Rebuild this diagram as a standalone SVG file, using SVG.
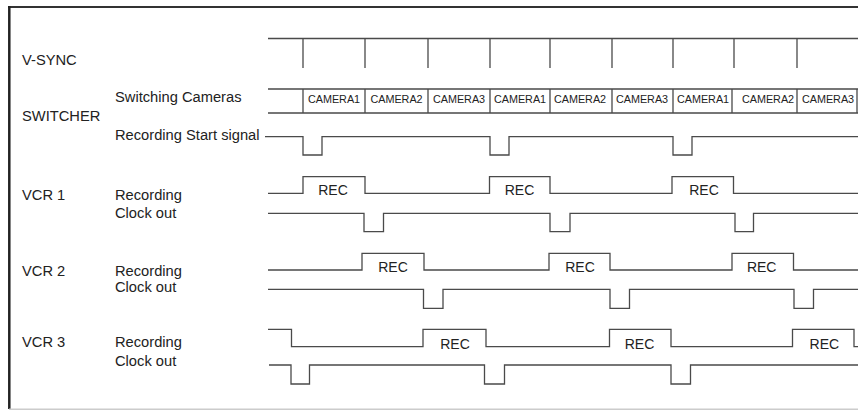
<svg xmlns="http://www.w3.org/2000/svg" width="858" height="410" viewBox="0 0 858 410">
<style>
.lbl{font-family:"Liberation Sans",Arial,sans-serif;font-size:14.7px;fill:#222}
.cam{font-family:"Liberation Sans",Arial,sans-serif;font-size:10.8px;fill:#222;text-anchor:middle}
.rec{font-family:"Liberation Sans",Arial,sans-serif;font-size:14px;fill:#222;text-anchor:middle}
.sig{fill:none;stroke:#4a4a4a;stroke-width:1.3}
</style>
<rect width="858" height="410" fill="#fff"/>
<g id="frame">
<line x1="8" y1="7" x2="858" y2="7" stroke="#333" stroke-width="2"/>
<line x1="9.3" y1="6" x2="9.3" y2="409" stroke="#222" stroke-width="2.5"/>
<line x1="9" y1="409.3" x2="858" y2="409.3" stroke="#ccc" stroke-width="1.5"/>
</g>
<g id="labels">
<text class="lbl" x="22" y="65">V-SYNC</text>
<text class="lbl" x="115" y="101.5">Switching Cameras</text>
<text class="lbl" x="22" y="120.5">SWITCHER</text>
<text class="lbl" x="115" y="139.5">Recording Start signal</text>
<text class="lbl" x="22" y="199.7">VCR 1</text>
<text class="lbl" x="115" y="199.7">Recording</text>
<text class="lbl" x="115" y="217.7">Clock out</text>
<text class="lbl" x="22" y="275.5">VCR 2</text>
<text class="lbl" x="115" y="275.5">Recording</text>
<text class="lbl" x="115" y="292">Clock out</text>
<text class="lbl" x="22" y="346.7">VCR 3</text>
<text class="lbl" x="115" y="346.7">Recording</text>
<text class="lbl" x="115" y="365.5">Clock out</text>
</g>
<g id="vsync">
<path class="sig" d="M268,38.5H858M303,38.5V68M365,38.5V68M428,38.5V68M490,38.5V68M550,38.5V68M612,38.5V68M673,38.5V68M734,38.5V68M797,38.5V68"/>
</g>
<g id="switcher-cameras">
<path class="sig" d="M268,89H858M268,113H858M303,89V113M365,89V113M428,89V113M490,89V113M550,89V113M612,89V113M673,89V113M732,89V113M797,89V113M857,89V113"/>
<text class="cam" x="334" y="103">CAMERA1</text>
<text class="cam" x="396.5" y="103">CAMERA2</text>
<text class="cam" x="459" y="103">CAMERA3</text>
<text class="cam" x="520" y="103">CAMERA1</text>
<text class="cam" x="580" y="103">CAMERA2</text>
<text class="cam" x="642" y="103">CAMERA3</text>
<text class="cam" x="703" y="103">CAMERA1</text>
<text class="cam" x="768" y="103">CAMERA2</text>
<text class="cam" x="828" y="103">CAMERA3</text>
</g>
<g id="switcher-start">
<path class="sig" d="M265,136.7H303V155H322V136.7H490V155H509V136.7H673V155H692V136.7H858"/>
</g>
<g id="vcr1-rec">
<path class="sig" d="M268,193.3H303V176.7H365V193.3H489.5V176.7H550V193.3H672V176.7H733.5V193.3H858"/>
<text class="rec" x="333" y="195">REC</text>
<text class="rec" x="519.5" y="195">REC</text>
<text class="rec" x="704" y="195">REC</text>
</g>
<g id="vcr1-clock">
<path class="sig" d="M268,213.3H364V231.7H383.5V213.3H550V231.7H570V213.3H735V231.7H753.5V213.3H858"/>
</g>
<g id="vcr2-rec">
<path class="sig" d="M268,270H362V253.3H424V270H549V253.3H610V270H732V253.3H793.5V270H858"/>
<text class="rec" x="393" y="271.5">REC</text>
<text class="rec" x="580" y="271.5">REC</text>
<text class="rec" x="761.7" y="271.5">REC</text>
</g>
<g id="vcr2-clock">
<path class="sig" d="M268,289.3H423.5V308.3H443V289.3H610V308.3H629.5V289.3H794V308.3H813.5V289.3H858"/>
</g>
<g id="vcr3-rec">
<path class="sig" d="M268,329.3H291.5V346.7H423V329.3H486V346.7H609.5V329.3H671V346.7H792.5V329.3H854V346.7H858"/>
<text class="rec" x="455" y="349.3">REC</text>
<text class="rec" x="639.5" y="349.3">REC</text>
<text class="rec" x="824.3" y="349.3">REC</text>
</g>
<g id="vcr3-clock">
<path class="sig" d="M269,365H291V384H309.5V365H484.5V384H504.5V365H671V384H690.5V365H858"/>
</g>
</svg>
